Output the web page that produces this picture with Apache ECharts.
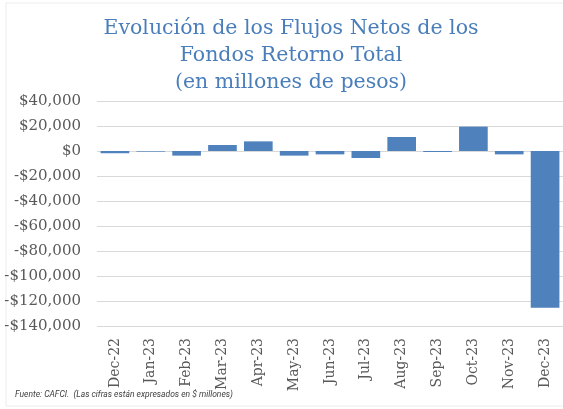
<!DOCTYPE html>
<html>
<head>
<meta charset="utf-8">
<script src="https://cdn.jsdelivr.net/npm/echarts@6/dist/echarts.min.js"></script>
<style>
html, body { margin: 0; padding: 0; background: #fff; }
#chart { width: 563px; height: 409px; }
</style>
</head>
<body>
<div id="chart"></div>
<script>
// categorias y flujos netos (millones de pesos)
const months = ["Dec-22", "Jan-23", "Feb-23", "Mar-23", "Apr-23", "May-23", "Jun-23", "Jul-23", "Aug-23", "Sep-23", "Oct-23", "Nov-23", "Dec-23"];
const flujos = [-1800, -500, -3700, 4800, 7700, -3700, -2700, -5600, 11200, -800, 19500, -2700, -125300];
const titleLines = ["Evolución de los Flujos Netos de los", "Fondos Retorno Total", "(en millones de pesos)"];
const footnote = "Fuente: CAFCI.  (Las cifras están expresados en $ millones)";

const myChart = echarts.init(document.getElementById("chart"));
const option = {
	animation: false,
	backgroundColor: "#fff",
	title: {
		text: titleLines.join("\n"),
		left: 286,
		textAlign: "center",
		top: 10,
		textStyle: {
			fontFamily: "DejaVu Serif",
			fontWeight: "normal",
			fontSize: 20.5,
			lineHeight: 27,
			color: "#4a7ebb"
		}
	},
	graphic: [
		{
			type: "rect",
			shape: { x: 6, y: 3, width: 600, height: 403 },
			style: { fill: "none", stroke: "#ececec", lineWidth: 1 },
			silent: true
		},
		{
			type: "text",
			left: 15,
			top: 390,
			style: {
				text: footnote,
				fontFamily: "Roboto",
				fontStyle: "italic",
				fontSize: 8.5,
				fill: "#404040"
			}
		}
	],
	grid: {
		left: 97,
		right: -3,
		top: 101,
		bottom: 83
	},
	xAxis: {
		type: "category",
		data: months,
		axisTick: { show: false },
		axisLine: { show: false },
		axisLabel: {
			rotate: 90,
			interval: 0,
			margin: 12,
			fontFamily: "DejaVu Serif",
			fontSize: 14,
			color: "#595959"
		}
	},
	yAxis: {
		type: "value",
		min: -140000,
		max: 40000,
		interval: 20000,
		axisLine: { show: false },
		axisTick: { show: false },
		splitLine: { lineStyle: { color: "#d9d9d9", width: 1 } },
		axisLabel: {
			margin: 16,
			fontFamily: "DejaVu Serif",
			fontSize: 15,
			color: "#595959",
			formatter: function (v) {
				const s = "$" + Math.abs(v).toLocaleString("en-US");
				return v < 0 ? "-" + s : s;
			}
		}
	},
	series: [
		{
			type: "bar",
			data: flujos,
			barWidth: "80%",
			itemStyle: { color: "#4f81bd" }
		}
	]
};
myChart.setOption(option);
</script>
</body>
</html>
